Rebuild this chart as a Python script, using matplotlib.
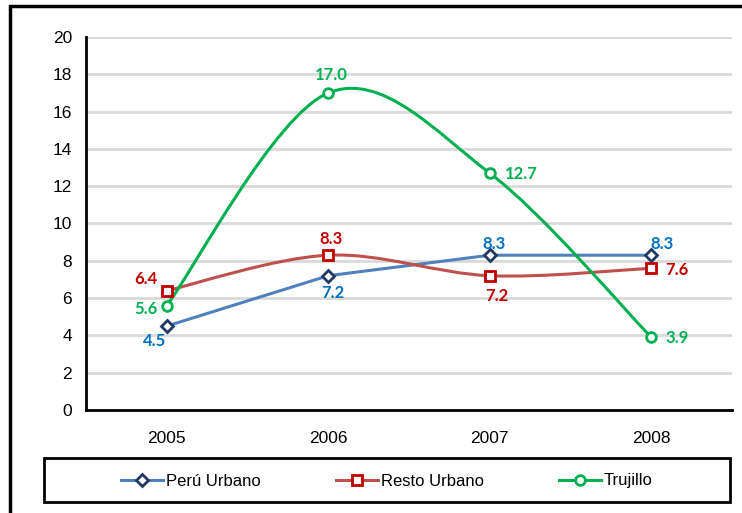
import matplotlib
matplotlib.use("Agg")
import matplotlib.pyplot as plt
from matplotlib.path import Path
from matplotlib.patches import PathPatch, Rectangle
from matplotlib.lines import Line2D

# Datos
anios = ["2005", "2006", "2007", "2008"]
peru_urbano = [4.5, 7.2, 8.3, 8.3]
resto_urbano = [6.4, 8.3, 7.2, 7.6]
trujillo = [5.6, 17.0, 12.7, 3.9]

# desplazamientos de las etiquetas (pixeles)
off_peru = [(-12, -15), (5, -17), (4, 11), (11, 11)]
off_resto = [(-21, 12), (3, 16), (7, -20), (26, -2)]
off_truj = [(-21, -3), (3, 18), (32, -1), (26, -1)]

plt.rcParams['font.family'] = ['Liberation Sans', 'DejaVu Sans']


# Curva suavizada tipo Excel (Bezier)
def curva_suave(xs, ys):
    pts = list(zip(xs, ys))
    n = len(pts)
    verts = [pts[0]]
    codes = [Path.MOVETO]
    for i in range(n - 1):
        p0 = pts[i - 1] if i > 0 else pts[i]
        p1 = pts[i]
        p2 = pts[i + 1]
        p3 = pts[i + 2] if i + 2 < n else pts[i + 1]
        c1 = (p1[0] + (p2[0] - p0[0]) / 6, p1[1] + (p2[1] - p0[1]) / 6)
        c2 = (p2[0] - (p3[0] - p1[0]) / 6, p2[1] - (p3[1] - p1[1]) / 6)
        verts += [c1, c2, p2]
        codes += [Path.CURVE4] * 3
    return Path(verts, codes)


fig = plt.figure(figsize=(7.42, 5.13), dpi=100)
ax = fig.add_axes([86 / 742, 1 - 410 / 513, (732 - 86) / 742, (410 - 37) / 513])

x = list(range(len(anios)))

series = [
    (peru_urbano, "Perú Urbano", "#4F81BD", "#1F3864", "#0070C0", "D", 6, False, off_peru),
    (resto_urbano, "Resto Urbano", "#C0504D", "#C00000", "#C00000", "s", 7, True, off_resto),
    (trujillo, "Trujillo", "#00B050", "#00B050", "#00B050", "o", 7, True, off_truj),
]

handles = []
for vals, nombre, c_linea, c_marca, c_texto, marca, ms, suave, offs in series:
    if suave:
        ax.add_patch(PathPatch(curva_suave(x, vals), facecolor='none',
                               edgecolor=c_linea, lw=2.2, zorder=3))
    else:
        ax.plot(x, vals, color=c_linea, lw=2.2, zorder=3)
    ax.plot(x, vals, linestyle='none', marker=marca, ms=ms, mfc='white',
            mec=c_marca, mew=2, zorder=4)
    for xi, v, (dx, dy) in zip(x, vals, offs):
        ax.annotate(f"{v:.1f}", (xi, v), xytext=(dx, dy), textcoords='offset pixels',
                    ha='center', va='center', color=c_texto, fontsize=12,
                    fontweight='bold', family='Lato', zorder=5)
    handles.append(Line2D([], [], color=c_linea, lw=2.2, marker=marca, ms=ms,
                          mfc='white', mec=c_marca, mew=2, label=nombre))

ax.set_xlim(-0.5, 3.5)
ax.set_ylim(0, 20)
ax.set_yticks(range(0, 21, 2))
ax.set_xticks(x)
ax.set_xticklabels(anios)
ax.tick_params(length=0, labelsize=12.5, colors='black')
ax.tick_params(axis='y', pad=10)
ax.tick_params(axis='x', pad=15)
ax.grid(axis='y', color='#D9D9D9', lw=2)
ax.set_axisbelow(True)
for lado in ['top', 'right']:
    ax.spines[lado].set_visible(False)
for lado in ['left', 'bottom']:
    ax.spines[lado].set_linewidth(2)
    ax.spines[lado].set_color('black')

# Caja de la leyenda
fig.patches.append(Rectangle((44 / 742, 1 - 502 / 513), (730 - 44) / 742, 44 / 513,
                             transform=fig.transFigure, fill=False, edgecolor='black', lw=2))
fig.legend(handles=handles, loc='center', bbox_to_anchor=(387 / 742, 1 - 481 / 513),
           ncol=3, frameon=False, fontsize=12, handlelength=2.5, handletextpad=0.2,
           columnspacing=4.5)

# Borde de la figura
fig.patches.append(Rectangle((10 / 742, -0.1), 2, 1.1 - 6 / 513, transform=fig.transFigure,
                             fill=False, edgecolor='black', lw=2.5))

fig.savefig("out.png", dpi=100)
